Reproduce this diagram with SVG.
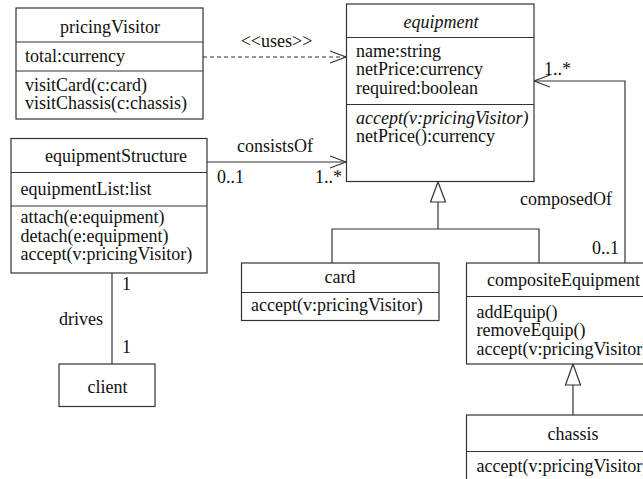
<svg xmlns="http://www.w3.org/2000/svg" width="643" height="479" viewBox="0 0 643 479">
<style>
  text { font-family: "Liberation Serif", "Times New Roman", serif; font-size: 18px; fill: #111; }
  .c { text-anchor: middle; }
  .i { font-style: italic; }
  .box { fill: #fff; stroke: #333; stroke-width: 1.2; }
  .ln { stroke: #333; stroke-width: 1.2; fill: none; }
  .dash { stroke: #333; stroke-width: 1.2; fill: none; stroke-dasharray: 4 3; }
  .tri { fill: #fff; stroke: #333; stroke-width: 1.2; }
</style>
<defs>
  <marker id="open" viewBox="0 0 18 14" refX="17" refY="7" markerWidth="18" markerHeight="14" markerUnits="userSpaceOnUse" orient="auto">
    <path d="M1,1 L17,7 L1,13" fill="none" stroke="#333" stroke-width="1.2"/>
  </marker>
</defs>
<rect width="643" height="479" fill="#fff"/>

<g id="connectors">
  <line class="dash" x1="203" y1="57" x2="346" y2="57" marker-end="url(#open)"/>
  <line class="ln" x1="207" y1="162" x2="346" y2="162" marker-end="url(#open)"/>
  <polyline class="ln" points="625,263 625,81 534,81" marker-end="url(#open)"/>
  <polyline class="ln" points="332,263 332,229 539,229 539,263"/>
  <line class="ln" x1="438" y1="229" x2="438" y2="202"/>
  <polygon class="tri" points="438,182 430.5,202 445.5,202"/>
  <line class="ln" x1="573" y1="415" x2="573" y2="385"/>
  <polygon class="tri" points="573,364 565.5,385 580.5,385"/>
  <line class="ln" x1="112" y1="273" x2="112" y2="364"/>
  <text class="c" x="276.5" y="47">&lt;&lt;uses&gt;&gt;</text>
  <text class="c" x="275" y="152">consistsOf</text>
  <text x="217" y="183">0..1</text>
  <text x="315" y="183">1..*</text>
  <text x="544" y="75">1..*</text>
  <text x="520" y="205">composedOf</text>
  <text x="592" y="254">0..1</text>
  <text x="122" y="290">1</text>
  <text x="59" y="325">drives</text>
  <text x="122" y="353">1</text>
</g>

<g id="pricingVisitor">
  <rect class="box" x="16" y="8" width="187" height="111"/>
  <line class="ln" x1="16" y1="42" x2="203" y2="42"/>
  <line class="ln" x1="16" y1="71" x2="203" y2="71"/>
  <text class="c" x="110" y="33">pricingVisitor</text>
  <text x="25" y="62">total:currency</text>
  <text x="25" y="90.5">visitCard(c:card)</text>
  <text x="25" y="109">visitChassis(c:chassis)</text>
</g>

<g id="equipment">
  <rect class="box" x="346.5" y="4" width="187.5" height="177.5"/>
  <line class="ln" x1="346.5" y1="37.5" x2="534" y2="37.5"/>
  <line class="ln" x1="346.5" y1="104.5" x2="534" y2="104.5"/>
  <text class="c i" x="441" y="28">equipment</text>
  <text x="356" y="56.5">name:string</text>
  <text x="356" y="75">netPrice:currency</text>
  <text x="356" y="93.5">required:boolean</text>
  <text class="i" x="356" y="123.5">accept(v:pricingVisitor)</text>
  <text x="356" y="142">netPrice():currency</text>
</g>

<g id="equipmentStructure">
  <rect class="box" x="11" y="138.5" width="196" height="134.5"/>
  <line class="ln" x1="11" y1="172.5" x2="207" y2="172.5"/>
  <line class="ln" x1="11" y1="206" x2="207" y2="206"/>
  <text class="c" x="116" y="161.5">equipmentStructure</text>
  <text x="20.5" y="195">equipmentList:list</text>
  <text x="20.5" y="223">attach(e:equipment)</text>
  <text x="20.5" y="241.5">detach(e:equipment)</text>
  <text x="20.5" y="260">accept(v:pricingVisitor)</text>
</g>

<g id="client">
  <rect class="box" x="59" y="364" width="96" height="42.5"/>
  <text class="c" x="107.5" y="392.5">client</text>
</g>

<g id="card">
  <rect class="box" x="241.5" y="263" width="197.5" height="57.5"/>
  <line class="ln" x1="241.5" y1="292.5" x2="439" y2="292.5"/>
  <text class="c" x="340" y="282.5">card</text>
  <text x="251" y="311">accept(v:pricingVisitor)</text>
</g>

<g id="compositeEquipment">
  <rect class="box" x="466.5" y="263" width="200" height="101"/>
  <line class="ln" x1="466.5" y1="296.5" x2="666.5" y2="296.5"/>
  <text class="c" x="563.5" y="286">compositeEquipment</text>
  <text x="476.5" y="317.5">addEquip()</text>
  <text x="476.5" y="336">removeEquip()</text>
  <text x="476.5" y="354.5">accept(v:pricingVisitor)</text>
</g>

<g id="chassis">
  <rect class="box" x="466.5" y="415" width="200" height="66"/>
  <line class="ln" x1="466.5" y1="451.5" x2="666.5" y2="451.5"/>
  <text class="c" x="573" y="440">chassis</text>
  <text x="476.5" y="471.5">accept(v:pricingVisitor)</text>
</g>
</svg>
